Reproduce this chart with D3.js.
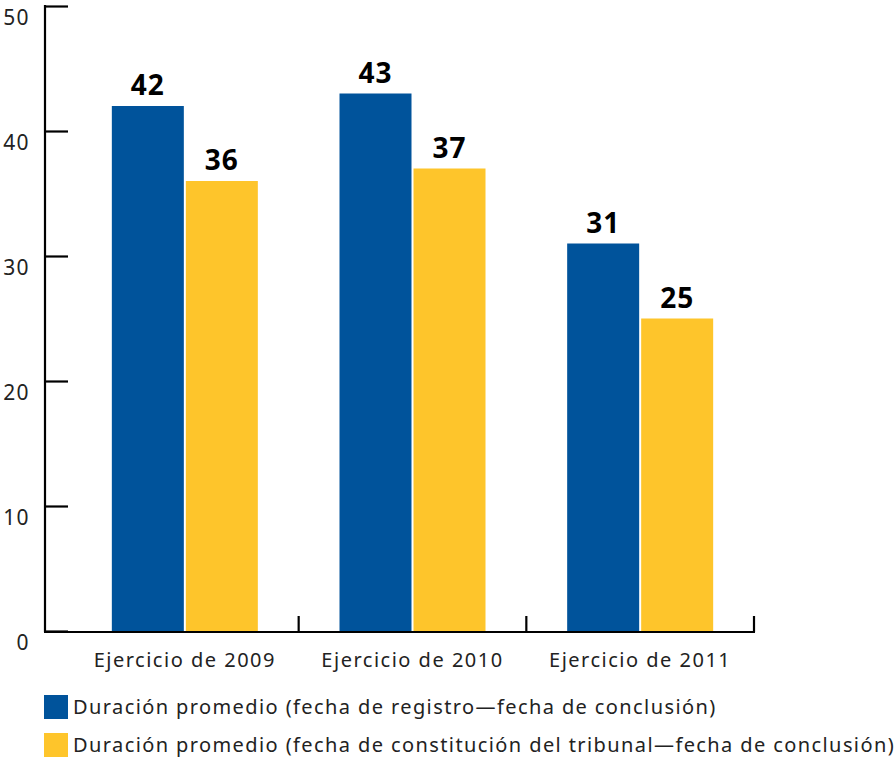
<!DOCTYPE html>
<html>
<head>
<meta charset="utf-8">
<script src="https://cdn.jsdelivr.net/npm/d3@7"></script>
<style>
  html, body { margin: 0; padding: 0; background: #fff; }
  svg { display: block; font-family: "Noto Sans", "Open Sans", sans-serif; }
</style>
</head>
<body>
<svg id="chart" width="894" height="759"></svg>
<script>
// Average case duration per fiscal year (days)
const categories = ["Ejercicio de 2009", "Ejercicio de 2010", "Ejercicio de 2011"];
const seriesNames = [
  "Duración promedio (fecha de registro—fecha de conclusión)",
  "Duración promedio (fecha de constitución del tribunal—fecha de conclusión)"
];
const registroValues = [42, 43, 31];
const constitucionValues = [36, 37, 25];
const yTicks = [0, 10, 20, 30, 40, 50];
const colors = ["#00539b", "#fec52b"];

const series = [registroValues, constitucionValues];
const textFont = "'Noto Sans', 'Open Sans', sans-serif";
const textSize = 20;
const spacing = 1.4;

const svg = d3.select("#chart");
const axisX = 45;
const plot = { left: 71, right: 754, top: 6, bottom: 631 };

const y = d3.scaleLinear().domain([0, 50]).range([plot.bottom, plot.top]);
const x0 = d3.scaleBand().domain(categories).range([plot.left, plot.right]).paddingInner(0).paddingOuter(0);
const barW = 72, barGap = 2;
const x1 = d3.scaleBand().domain(d3.range(series.length))
  .range([0, barW * 2 + barGap]).paddingInner(barGap / (barW + barGap));
const groupOffset = (x0.bandwidth() - (barW * 2 + barGap)) / 2;

// bars
const groups = svg.append("g").selectAll("g")
  .data(categories)
  .join("g")
  .attr("transform", d => `translate(${x0(d) + groupOffset},0)`);

groups.selectAll("rect")
  .data((d, i) => series.map((s, k) => ({ k, v: s[i] })))
  .join("rect")
  .attr("x", d => x1(d.k))
  .attr("width", x1.bandwidth())
  .attr("y", d => y(d.v))
  .attr("height", d => y(0) - y(d.v))
  .attr("fill", d => colors[d.k]);

groups.selectAll("text")
  .data((d, i) => series.map((s, k) => ({ k, v: s[i] })))
  .join("text")
  .attr("x", d => x1(d.k) + x1.bandwidth() / 2)
  .attr("y", d => y(d.v) - 11)
  .attr("text-anchor", "middle")
  .attr("font-size", 28)
  .attr("font-weight", 700)
  .attr("letter-spacing", 1)
  .attr("fill", "#000")
  .text(d => d.v);

// y axis with inward ticks
const yAxis = svg.append("g")
  .attr("transform", `translate(${axisX},0)`)
  .call(d3.axisRight(y).tickValues(yTicks).tickSize(23).tickFormat(d3.format("d")));
yAxis.select(".domain").remove();
yAxis.selectAll(".tick line").attr("stroke", "#000").attr("stroke-width", 2.2);
yAxis.selectAll(".tick text")
  .attr("x", -15)
  .attr("dy", "0.9em")
  .attr("text-anchor", "end")
  .attr("font-size", 21)
  .attr("letter-spacing", spacing)
  .attr("font-family", textFont)
  .attr("fill", "#222");
svg.append("line")
  .attr("x1", axisX).attr("x2", axisX)
  .attr("y1", y(50) - 1).attr("y2", y(0) + 1)
  .attr("stroke", "#000").attr("stroke-width", 2.2);

// x axis with upward ticks at category boundaries
const boundaries = categories.map(c => x0(c) + x0.bandwidth());
const xAxisG = svg.append("g");
xAxisG.append("line")
  .attr("x1", axisX - 1).attr("x2", plot.right + 1)
  .attr("y1", y(0) + 1).attr("y2", y(0) + 1)
  .attr("stroke", "#000").attr("stroke-width", 2.2);
xAxisG.selectAll("line.tk")
  .data(boundaries)
  .join("line")
  .attr("class", "tk")
  .attr("x1", d => d).attr("x2", d => d)
  .attr("y1", y(0) + 1).attr("y2", y(0) - 15)
  .attr("stroke", "#000").attr("stroke-width", 2.2);
xAxisG.selectAll("text")
  .data(categories)
  .join("text")
  .attr("x", d => x0(d) + x0.bandwidth() / 2)
  .attr("y", y(0) + 36)
  .attr("text-anchor", "middle")
  .attr("font-size", textSize)
  .attr("letter-spacing", 1.5)
  .attr("fill", "#222")
  .text(d => d);

// legend
const legend = svg.append("g").selectAll("g")
  .data(seriesNames)
  .join("g")
  .attr("transform", (d, i) => `translate(44,${695 + i * 38})`);
legend.append("rect")
  .attr("width", 24).attr("height", 24)
  .attr("fill", (d, i) => colors[i]);
legend.append("text")
  .attr("x", 29).attr("y", 19)
  .attr("font-size", textSize)
  .attr("letter-spacing", spacing)
  .attr("fill", "#222")
  .text(d => d);
</script>
</body>
</html>
